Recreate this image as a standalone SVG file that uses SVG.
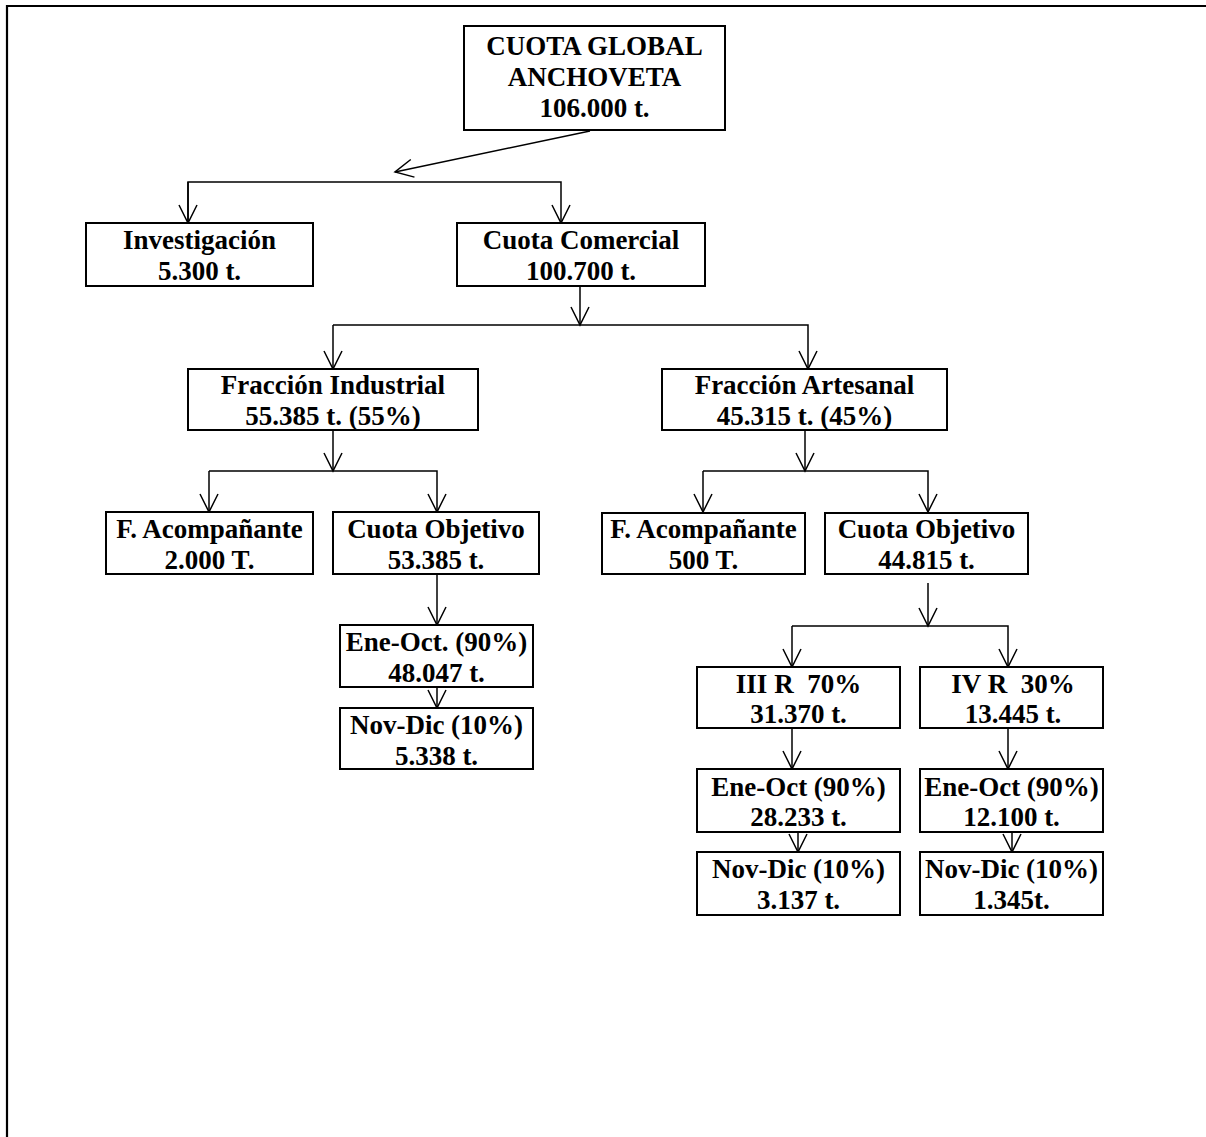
<svg xmlns="http://www.w3.org/2000/svg" width="1206" height="1137" viewBox="0 0 1206 1137">
<style>
.box{fill:#fff;stroke:#000;stroke-width:2}
.t{font-family:"Liberation Serif","Times New Roman",serif;font-weight:bold;font-size:27px;text-anchor:middle;fill:#000}
.c{fill:none;stroke:#000;stroke-width:1.5}
</style>
<defs>
<marker id="arr" markerUnits="userSpaceOnUse" markerWidth="22" markerHeight="22" viewBox="0 0 22 22" refX="19" refY="11" orient="auto">
<path d="M1,2 L19,11 L1,20" fill="none" stroke="#000" stroke-width="1.5"/>
</marker>
</defs>
<rect width="1206" height="1137" fill="#fff"/>
<path d="M7,1137 V6 H1206" fill="none" stroke="#000" stroke-width="2.2"/>

<g id="connectors" class="c">
<line x1="590" y1="131" x2="395" y2="172" marker-end="url(#arr)"/>
<path d="M188,223 V182 H561 V223" marker-end="url(#arr)"/>
<line x1="188" y1="182" x2="188" y2="223" marker-end="url(#arr)"/>
<line x1="580" y1="287" x2="580" y2="325" marker-end="url(#arr)"/>
<path d="M333,325 H808 V369" marker-end="url(#arr)"/>
<line x1="333" y1="325" x2="333" y2="369" marker-end="url(#arr)"/>
<line x1="333" y1="430" x2="333" y2="471" marker-end="url(#arr)"/>
<path d="M209,471 H437 V512" marker-end="url(#arr)"/>
<line x1="209" y1="471" x2="209" y2="512" marker-end="url(#arr)"/>
<line x1="437" y1="574" x2="437" y2="625" marker-end="url(#arr)"/>
<line x1="437" y1="687" x2="437" y2="708" marker-end="url(#arr)"/>
<line x1="805" y1="430" x2="805" y2="471" marker-end="url(#arr)"/>
<path d="M703,471 H928 V512" marker-end="url(#arr)"/>
<line x1="703" y1="471" x2="703" y2="512" marker-end="url(#arr)"/>
<line x1="928" y1="583" x2="928" y2="626" marker-end="url(#arr)"/>
<path d="M792,626 H1008 V667" marker-end="url(#arr)"/>
<line x1="792" y1="626" x2="792" y2="667" marker-end="url(#arr)"/>
<line x1="792" y1="728" x2="792" y2="769" marker-end="url(#arr)"/>
<line x1="1008" y1="728" x2="1008" y2="769" marker-end="url(#arr)"/>
<line x1="798" y1="832" x2="798" y2="852" marker-end="url(#arr)"/>
<line x1="1012" y1="832" x2="1012" y2="852" marker-end="url(#arr)"/>
</g>

<g id="n-global"><rect class="box" x="464" y="26" width="261" height="104"/>
<text class="t" x="594.5" y="55">CUOTA GLOBAL</text><text class="t" x="594.5" y="86">ANCHOVETA</text><text class="t" x="594.5" y="117">106.000 t.</text></g>

<g id="n-investigacion"><rect class="box" x="86" y="223" width="227" height="63"/>
<text class="t" x="199.5" y="249">Investigación</text><text class="t" x="199.5" y="280">5.300 t.</text></g>

<g id="n-comercial"><rect class="box" x="457" y="223" width="248" height="63"/>
<text class="t" x="581" y="249">Cuota Comercial</text><text class="t" x="581" y="280">100.700 t.</text></g>

<g id="n-industrial"><rect class="box" x="188" y="369" width="290" height="61"/>
<text class="t" x="333" y="394">Fracción Industrial</text><text class="t" x="333" y="425">55.385 t. (55%)</text></g>

<g id="n-artesanal"><rect class="box" x="662" y="369" width="285" height="61"/>
<text class="t" x="804.5" y="394">Fracción Artesanal</text><text class="t" x="804.5" y="425">45.315 t. (45%)</text></g>

<g id="n-acomp-i"><rect class="box" x="106" y="512" width="207" height="62"/>
<text class="t" x="209.5" y="538">F. Acompañante</text><text class="t" x="209.5" y="569">2.000 T.</text></g>

<g id="n-objetivo-i"><rect class="box" x="333" y="512" width="206" height="62"/>
<text class="t" x="436" y="538">Cuota Objetivo</text><text class="t" x="436" y="569">53.385 t.</text></g>

<g id="n-eneoct-i"><rect class="box" x="340" y="625" width="193" height="62"/>
<text class="t" x="436.5" y="651">Ene-Oct. (90%)</text><text class="t" x="436.5" y="682">48.047 t.</text></g>

<g id="n-novdic-i"><rect class="box" x="340" y="708" width="193" height="61"/>
<text class="t" x="436.5" y="734">Nov-Dic (10%)</text><text class="t" x="436.5" y="765">5.338 t.</text></g>

<g id="n-acomp-a"><rect class="box" x="602" y="513" width="203" height="61"/>
<text class="t" x="703.5" y="538">F. Acompañante</text><text class="t" x="703.5" y="569">500 T.</text></g>

<g id="n-objetivo-a"><rect class="box" x="825" y="513" width="203" height="61"/>
<text class="t" x="926.5" y="538">Cuota Objetivo</text><text class="t" x="926.5" y="569">44.815 t.</text></g>

<g id="n-iiir"><rect class="box" x="697" y="667" width="203" height="61"/>
<text class="t" x="798.5" y="693">III R &#160;70%</text><text class="t" x="798.5" y="723">31.370 t.</text></g>

<g id="n-ivr"><rect class="box" x="920" y="667" width="183" height="61"/>
<text class="t" x="1013" y="693">IV R &#160;30%</text><text class="t" x="1013" y="723">13.445 t.</text></g>

<g id="n-eneoct-iii"><rect class="box" x="697" y="769" width="203" height="63"/>
<text class="t" x="798.5" y="796">Ene-Oct (90%)</text><text class="t" x="798.5" y="826">28.233 t.</text></g>

<g id="n-eneoct-iv"><rect class="box" x="920" y="769" width="183" height="63"/>
<text class="t" x="1011.5" y="796">Ene-Oct (90%)</text><text class="t" x="1011.5" y="826">12.100 t.</text></g>

<g id="n-novdic-iii"><rect class="box" x="697" y="852" width="203" height="63"/>
<text class="t" x="798.5" y="878">Nov-Dic (10%)</text><text class="t" x="798.5" y="909">3.137 t.</text></g>

<g id="n-novdic-iv"><rect class="box" x="920" y="852" width="183" height="63"/>
<text class="t" x="1011.5" y="878">Nov-Dic (10%)</text><text class="t" x="1011.5" y="909">1.345t.</text></g>
</svg>
